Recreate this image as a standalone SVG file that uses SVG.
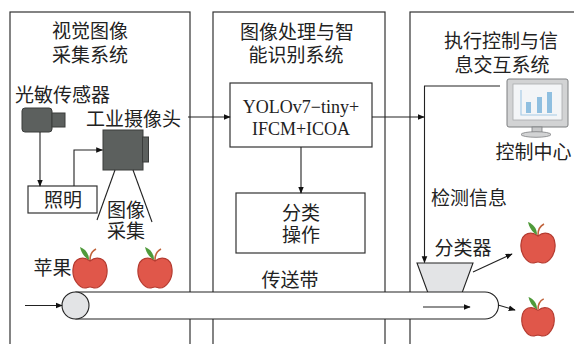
<svg xmlns="http://www.w3.org/2000/svg" xmlns:xlink="http://www.w3.org/1999/xlink" width="574" height="344" viewBox="0 0 574 344">
  <style>
    .t { font-family: "Noto Sans CJK SC", "Noto Sans", sans-serif; font-size: 19px; fill: #222; text-anchor: middle; }
    .s { font-family: "Liberation Serif", "Times New Roman", serif; font-size: 18px; fill: #222; text-anchor: middle; }
    .panel { fill: none; stroke: #333; stroke-width: 1.2; }
    .box { fill: #fff; stroke: #333; stroke-width: 1.2; }
    .ln { fill: none; stroke: #222; stroke-width: 1.1; }
    .arr { fill: none; stroke: #222; stroke-width: 1.1; marker-end: url(#ah); }
    .cam { fill: #5c605e; stroke: #3a3c3b; stroke-width: 1; }
  </style>
  <defs>
    <marker id="ah" viewBox="0 0 10 10" refX="9" refY="5" markerWidth="7" markerHeight="7" markerUnits="userSpaceOnUse" orient="auto">
      <path d="M0,1 L10,5 L0,9 Z" fill="#111"/>
    </marker>
    <symbol id="apple" viewBox="0 0 36 42">
      <path d="M18,14 C12,9 2,10 1,22 C0,32 7,41 13,41 C15,41 16,40 18,40 C20,40 21,41 23,41 C29,41 36,32 35,22 C34,10 24,9 18,14 Z" fill="#e0574a" stroke="#b53b30" stroke-width="1.2"/>
      <path d="M17,13 C12,10 9,5 8,0 C13,2 17,6 17,13 Z" fill="#4f9a3a"/>
      <path d="M18,13 C18,8 20,4 24,2" fill="none" stroke="#c0623a" stroke-width="1.6"/>
    </symbol>
  </defs>

  <!-- three subsystem panels -->
  <g id="panel-vision">
    <rect class="panel" x="10" y="12" width="180" height="340"/>
    <text class="t" x="90" y="38">视觉图像<tspan x="90" dy="24">采集系统</tspan></text>
  </g>
  <g id="panel-processing">
    <rect class="panel" x="213" y="12" width="172" height="340"/>
    <text class="t" x="297" y="38.5">图像处理与智<tspan x="296" dy="23.5">能识别系统</tspan></text>
  </g>
  <g id="panel-control">
    <rect class="panel" x="410" y="12" width="180" height="340"/>
    <text class="t" x="501" y="48">执行控制与信<tspan x="502" dy="23.5">息交互系统</tspan></text>
  </g>

  <!-- vision acquisition -->
  <g id="light-sensor">
    <text class="t" x="62.5" y="102">光敏传感器</text>
    <rect class="cam" x="22" y="108" width="30" height="24" rx="3"/>
    <rect class="cam" x="52" y="113" width="13" height="14"/>
  </g>
  <g id="industrial-camera">
    <text class="t" x="133.5" y="126">工业摄像头</text>
    <rect class="cam" x="103" y="130" width="40" height="40"/>
    <rect class="cam" x="142.5" y="137" width="6" height="25"/>
    <line class="ln" x1="115" y1="170" x2="97" y2="220"/>
    <line class="ln" x1="133" y1="170" x2="152" y2="222"/>
    <text class="t" x="126" y="216.5">图像<tspan x="126" dy="21.5">采集</tspan></text>
  </g>
  <g id="lighting">
    <rect class="box" x="28" y="186" width="69" height="27"/>
    <text class="t" x="63" y="207">照明</text>
  </g>
  <g id="apples-in">
    <text class="t" x="52.5" y="274.5">苹果</text>
    <use href="#apple" x="72" y="247" width="36" height="42"/>
    <use href="#apple" x="137" y="247" width="36" height="42"/>
  </g>

  <!-- processing -->
  <g id="detector">
    <rect class="box" x="230" y="83" width="142" height="64"/>
    <text class="s" x="301" y="113">YOLOv7−tiny+<tspan x="301" dy="22">IFCM+ICOA</tspan></text>
  </g>
  <g id="sort-op">
    <rect class="box" x="236" y="193" width="129" height="60"/>
    <text class="t" x="301" y="219.5">分类<tspan x="301" dy="22">操作</tspan></text>
  </g>
  <text class="t" x="290" y="287">传送带</text>

  <!-- control & information -->
  <g id="control-center">
    <rect x="507" y="79" width="61" height="48" rx="2" fill="#d2d3d4" stroke="#7c7e80" stroke-width="1"/>
    <rect x="513" y="84" width="49" height="36" fill="#f3f5f7" stroke="#a9abad" stroke-width="0.8"/>
    <path d="M521,90 V115 H557" fill="none" stroke="#a8cce6" stroke-width="1.2"/>
    <rect x="526" y="102" width="5" height="11" fill="#8fbfe0"/>
    <rect x="537" y="97" width="5" height="16" fill="#8fbfe0"/>
    <rect x="547" y="92" width="5" height="21" fill="#8fbfe0"/>
    <rect x="532" y="127" width="10" height="6" fill="#c8c9ca" stroke="#7c7e80" stroke-width="0.8"/>
    <ellipse cx="536" cy="134.5" rx="15" ry="2.8" fill="#d2d3d4" stroke="#7c7e80" stroke-width="0.8"/>
    <text class="t" x="533.5" y="158.5">控制中心</text>
  </g>
  <text class="t" x="469" y="204.5">检测信息</text>
  <g id="sorter">
    <text class="t" x="463" y="254.5">分类器</text>
    <path d="M417,263 H473 L462,293 H428 Z" fill="#e3e4e6" stroke="#222" stroke-width="1.1"/>
  </g>
  <g id="apples-out">
    <use href="#apple" x="520" y="222" width="36" height="42"/>
    <use href="#apple" x="520" y="297" width="36" height="40"/>
  </g>

  <!-- conveyor belt -->
  <g id="conveyor">
    <path d="M76,292 H485 A13.5,13.5 0 0 1 485,319 H76 Z" fill="#fff" stroke="#222" stroke-width="1.1"/>
    <circle cx="75.5" cy="305.5" r="13.5" fill="#e3e4e6" stroke="#222" stroke-width="1.1"/>
  </g>

  <!-- connectors -->
  <g id="connectors">
    <path class="arr" d="M40,132 V186"/>
    <path class="arr" d="M74,186 V150 H102.5"/>
    <path class="arr" d="M188,117 H230"/>
    <path class="arr" d="M372,117 H424"/>
    <path class="arr" d="M500,86 H424.5 V262.5"/>
    <path class="arr" d="M301,147 V193"/>
    <path class="arr" d="M473,272 L512,254"/>
    <path class="arr" d="M25,305.5 H62"/>
    <path class="arr" d="M423,307 H470"/>
    <path class="arr" d="M498,305 L515,310"/>
  </g>
</svg>
